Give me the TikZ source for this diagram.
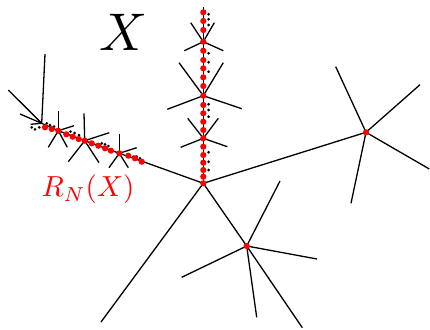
\documentclass[tikz,border=0pt]{standalone}
\usepackage{tikz}

\tikzset{
  twig/.style={line width=1.3pt, black},
  rdot/.style={circle, fill=red, inner sep=0pt, minimum size=6.2pt},
  bdot/.style={circle, fill=black, inner sep=0pt, minimum size=3pt}
}

% star of twigs: #1 = centre name, #2 = list of x/y ends
\newcommand\twigs[2]{%
  \foreach \ex/\ey [count=\i] in {#2} {
    \coordinate (#1-\i) at (\ex,\ey);
    \draw[twig] (#1) -- (#1-\i);
  }}

\begin{document}
\begin{tikzpicture}[x=1pt, y=-1pt]
\useasboundingbox (0,0) rectangle (430,329);

% junctions
\coordinate (c) at (203.3,183.3);
\coordinate (st) at (203.3,7);
\coordinate (s1) at (203.3,41.7);
\coordinate (s2) at (203.3,95.7);
\coordinate (s3) at (203.3,138.3);
\coordinate (e) at (143.3,161.7);
\coordinate (j3) at (119.3,153.3);
\coordinate (j2) at (84.7,140.7);
\coordinate (j1) at (58.3,130.7);
\coordinate (j0) at (41.7,123.3);
\coordinate (r) at (366,132.3);
\coordinate (l) at (246.7,246);
\coordinate (bl) at (101,322);

% main lines
\draw[twig] (st) -- (c);
\draw[twig] (j0) -- (j1) -- (j2) -- (j3) -- (e) -- (c);
\draw[twig] (c) -- (r);
\draw[twig] (c) -- (l);
\draw[twig] (c) -- (bl);

% side twigs
\twigs{s1}{190.7/22.7, 214.3/22.7, 184.3/50.7, 223.3/50.7}
\twigs{s2}{179/62.7, 223.3/62.7, 167.3/109.3, 241.7/108.7}
\twigs{s3}{187.7/118.3, 218.3/118.3, 180.7/147.3, 227.3/146.7}
\twigs{j3}{119.3/134, 136.7/147.7, 109/167.7, 128.3/167.7}
\twigs{j2}{84/113.3, 109.3/132.7, 68.3/161.7, 99/162.7}
\twigs{j1}{58.3/110.7, 74/125.7, 48.3/147.3, 67.3/147.3}
\twigs{j0}{45/54, 8.3/90, 20/114, 30.7/124.3}
\twigs{r}{335.7/66.7, 420/84.7, 429.3/169, 351/203.3}
\twigs{l}{280/181, 317/259, 181.7/277.3, 256.7/317.3, 302.3/327.7}

% black dots
\foreach \y [count=\i] in {14.3, 19.3, 25, 53.3, 62.3, 71.7, 104.3, 110, 116.7, 152.3, 161.7, 170}
  \node[bdot] (bs\i) at (208.6,\y) {};
\foreach \x/\y [count=\i] in {31.7/127.3, 35/129.3, 39.3/127.3, 46.7/123.3, 50/125, 54/126.7,
    70.5/131.5, 74.7/133, 79/135, 101.7/143.3, 105/144.3, 108.3/146,
    133.3/156.7, 136.7/156.7, 140/158.3}
  \node[bdot] (bc\i) at (\x,\y) {};

% red dots
\foreach \y [count=\i] in {12.3, 21, 30, 41.7, 50.7, 60, 68.3, 77.3, 86, 95.7, 105, 113.3,
    121.7, 130, 138.3, 146.7, 155, 162.7, 170, 176.7, 183.3}
  \node[rdot] (rs\i) at (203.3,\y) {};
\foreach \x/\y [count=\i] in {45/127.3, 51.7/129, 58.3/130.7, 66.3/134.3, 72.7/136.7, 78.7/139,
    84.7/140.7, 91.7/143.3, 98.3/145.7, 105/148.3, 110.9/150.7, 119.3/153.3,
    128.3/155.7, 135/158.3, 141.7/161.7}
  \node[rdot] (rc\i) at (\x,\y) {};
\node[rdot] (rr) at (r) {};
\node[rdot] (rl) at (l) {};

% labels
\node[anchor=base, inner sep=0pt, scale=5.3] (xlab) at (124,50) {$X$};
\node[anchor=base, inner sep=0pt, text=red, scale=2.9] (rlab) at (88,196.7) {$R_N(X)$};
\end{tikzpicture}
\end{document}
